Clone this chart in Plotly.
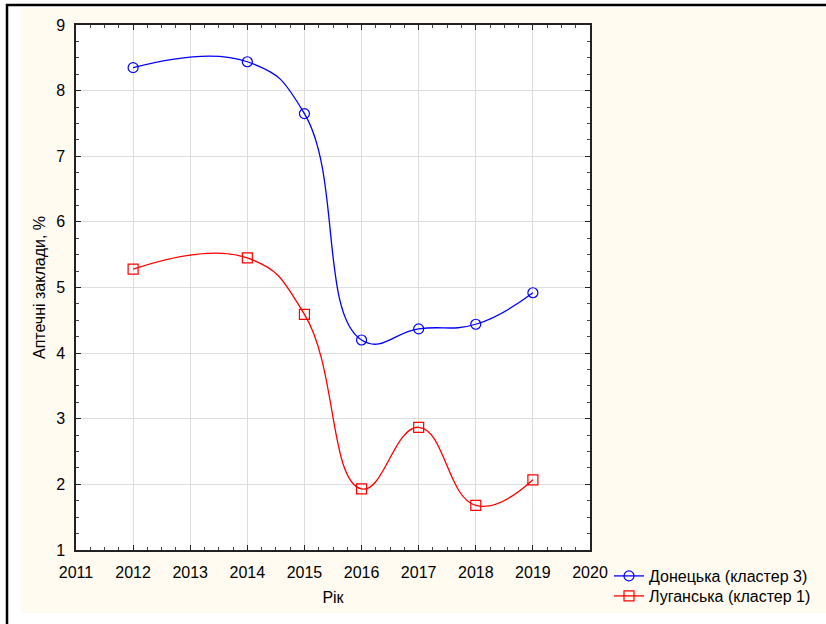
import plotly.graph_objects as go

# Share of pharmacy establishments by year, two regions
years = [2012, 2014, 2015, 2016, 2017, 2018, 2019]
donetsk = [8.35, 8.44, 7.65, 4.20, 4.37, 4.44, 4.92]
luhansk = [5.28, 5.45, 4.59, 1.93, 2.87, 1.68, 2.07]

series_names = ["Донецька (кластер 3)", "Луганська (кластер 1)"]
x_title = "Рік"
y_title = "Аптечні заклади, %"

W, H = 826, 624
ML, MR, MT, MB = 76, 236, 25, 74
PW, PH = W - ML - MR, H - MT - MB


def px_x(p):
    return (p - ML) / PW


def px_y(p):
    return (H - MB - p) / PH


FONT = "Liberation Sans, Arial, sans-serif"

fig = go.Figure()
fig.add_trace(go.Scatter(
    x=years, y=donetsk, name=series_names[0], mode="lines+markers",
    line=dict(color="#0000FF", width=1.3, shape="spline", smoothing=1.3),
    marker=dict(symbol="circle-open", size=10, color="#0000FF",
                line=dict(width=1.2, color="#0000FF")),
    legend="legend",
))
fig.add_trace(go.Scatter(
    x=years, y=luhansk, name=series_names[1], mode="lines+markers",
    line=dict(color="#FF0000", width=1.3, shape="spline", smoothing=1.3),
    marker=dict(symbol="square-open", size=10, color="#FF0000",
                line=dict(width=1.2, color="#FF0000")),
    legend="legend2",
))

axis_common = dict(
    showline=True, linecolor="#222222", linewidth=1.5, mirror="ticks",
    ticks="inside", ticklen=5, tickwidth=1.2, tickcolor="#222222",
    showgrid=True, gridcolor="#dedede", gridwidth=1.3,
    zeroline=False,
    tickfont=dict(family=FONT, size=16, color="black"),
    minor=dict(ticks="inside", ticklen=3, tickwidth=1, tickcolor="#444444",
               dtick=0.25, showgrid=False),
)

fig.update_xaxes(range=[2011, 2020], dtick=1, tick0=2011,
                 title=dict(text=x_title, font=dict(family=FONT, size=16, color="black"),
                            standoff=12),
                 ticklabelstandoff=7, **axis_common)
fig.update_yaxes(range=[1, 9], dtick=1, tick0=1,
                 title=dict(text=y_title, font=dict(family=FONT, size=16, color="black"),
                            standoff=7),
                 ticklabelstandoff=6, **axis_common)

shapes = [
    # beige panel behind the chart
    dict(type="rect", xref="paper", yref="paper", layer="below",
         x0=px_x(21), x1=px_x(W + 2), y0=px_y(613), y1=px_y(8),
         fillcolor="#FFFBF0", line=dict(width=0)),
    # white plotting area
    dict(type="rect", xref="paper", yref="paper", layer="below",
         x0=0, x1=1, y0=0, y1=1, fillcolor="white", line=dict(width=0)),
    # outer frame lines
    dict(type="line", xref="paper", yref="paper",
         x0=px_x(6), x1=px_x(W + 2), y0=px_y(5), y1=px_y(5),
         line=dict(color="black", width=2.5)),
    dict(type="line", xref="paper", yref="paper",
         x0=px_x(7), x1=px_x(7), y0=px_y(4), y1=px_y(H + 2),
         line=dict(color="black", width=2.5)),
]

legend_style = dict(xanchor="left", yanchor="top", bgcolor="rgba(0,0,0,0)",
                    font=dict(family=FONT, size=16, color="black"), itemwidth=30)

fig.update_layout(
    width=W, height=H,
    margin=dict(l=ML, r=MR, t=MT, b=MB, autoexpand=False),
    paper_bgcolor="white", plot_bgcolor="white",
    font=dict(family=FONT, size=16, color="black"),
    showlegend=True,
    legend=dict(x=px_x(609), y=px_y(559), **legend_style),
    legend2=dict(x=px_x(609), y=px_y(579), **legend_style),
    shapes=shapes,
)

fig.write_html("out.html")
